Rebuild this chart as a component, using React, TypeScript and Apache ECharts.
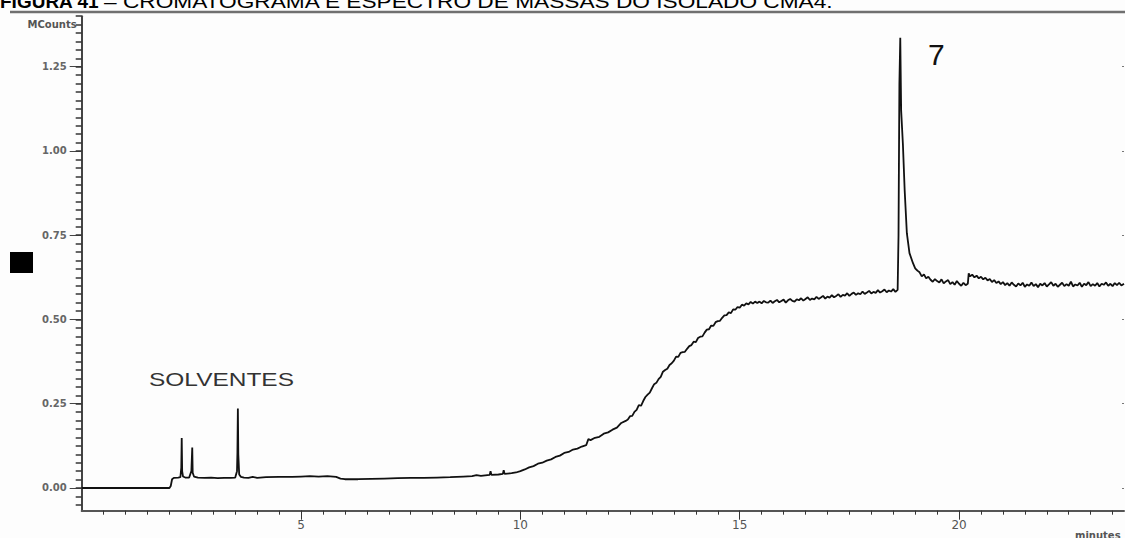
import React, { useEffect, useRef } from "react";
import * as echarts from "echarts";

// ---- tick labels / axis values ----
const majorYTicks = [0, 0.25, 0.5, 0.75, 1.0, 1.25];
const unitTickValue = 1.375;
const unitLabel = "MCounts";
const majorXTicks = [5, 10, 15, 20];
const xName = "minutes";
const peakLabel = "7";
const solventLabel = "SOLVENTES";
const titleBold = "FIGURA 41";
const titleRest = "– CROMATOGRAMA E ESPECTRO DE MASSAS DO ISOLADO CMA4.";

// ---- chromatogram trace, [minutes, MCounts] ----
const baselineStart = [
  [0, 0], [1.0, 0], [2.0, 0], [2.03, 0.006], [2.06, 0.026], [2.1, 0.03], [2.2, 0.031],
];
const solventPeaks = [
  [2.25, 0.032], [2.27, 0.06], [2.28, 0.148], [2.29, 0.05], [2.31, 0.034], [2.36, 0.031],
  [2.45, 0.031], [2.5, 0.05], [2.52, 0.12], [2.53, 0.045], [2.56, 0.034], [2.65, 0.031],
  [2.8, 0.03], [2.95, 0.031], [3.1, 0.029], [3.25, 0.03], [3.4, 0.03], [3.5, 0.031],
  [3.54, 0.05], [3.55, 0.105], [3.56, 0.236], [3.57, 0.1], [3.59, 0.04], [3.63, 0.033],
  [3.7, 0.031], [3.8, 0.03], [3.9, 0.033], [4.0, 0.03],
];
const lowBaseline = [
  [4.2, 0.032], [4.5, 0.033], [4.8, 0.033], [5.0, 0.034], [5.2, 0.035], [5.4, 0.034],
  [5.6, 0.035], [5.8, 0.033], [5.9, 0.028], [6.0, 0.026], [6.3, 0.026], [6.6, 0.027],
  [6.9, 0.028], [7.2, 0.029], [7.5, 0.03], [7.8, 0.03], [8.1, 0.031], [8.4, 0.032],
  [8.7, 0.034], [8.9, 0.035], [9.0, 0.038], [9.1, 0.036], [9.3, 0.039], [9.32, 0.05],
  [9.34, 0.039], [9.5, 0.04], [9.6, 0.042], [9.62, 0.053], [9.64, 0.042], [9.8, 0.044],
  [9.9, 0.046],
];
const riseSegment = [
  [10.0, 0.05], [10.1, 0.055], [10.2, 0.061], [10.3, 0.065], [10.4, 0.072], [10.5, 0.075],
  [10.6, 0.081], [10.7, 0.085], [10.8, 0.092], [10.9, 0.096], [11.0, 0.104], [11.1, 0.107],
  [11.2, 0.114], [11.3, 0.117], [11.4, 0.123], [11.5, 0.127], [11.55, 0.145], [11.6, 0.142],
  [11.7, 0.149], [11.8, 0.152], [11.9, 0.161], [12.0, 0.165], [12.1, 0.173], [12.2, 0.179],
  [12.3, 0.193], [12.4, 0.199], [12.45, 0.203], [12.5, 0.213], [12.55, 0.214], [12.6, 0.226],
  [12.65, 0.232], [12.7, 0.246], [12.75, 0.244], [12.8, 0.258], [12.85, 0.27], [12.9, 0.277],
  [12.95, 0.283], [13.0, 0.296], [13.05, 0.308], [13.1, 0.312], [13.15, 0.323], [13.2, 0.33],
  [13.25, 0.345], [13.3, 0.35], [13.35, 0.354], [13.4, 0.365], [13.45, 0.37], [13.5, 0.378],
  [13.55, 0.39], [13.6, 0.389], [13.65, 0.401], [13.7, 0.403], [13.75, 0.404], [13.8, 0.413],
  [13.85, 0.421], [13.9, 0.424], [13.95, 0.434], [14.0, 0.433], [14.05, 0.445], [14.1, 0.449],
  [14.15, 0.45], [14.2, 0.461], [14.25, 0.47], [14.3, 0.471], [14.35, 0.482], [14.4, 0.481],
  [14.45, 0.492], [14.5, 0.495], [14.55, 0.496], [14.6, 0.505], [14.65, 0.512], [14.7, 0.513],
  [14.75, 0.521], [14.8, 0.519], [14.85, 0.53], [14.9, 0.529], [14.95, 0.537], [15.0, 0.535],
  [15.05, 0.544], [15.1, 0.541], [15.15, 0.548], [15.2, 0.545], [15.25, 0.552], [15.3, 0.547],
  [15.35, 0.553], [15.4, 0.549],
];
const plateauSegment = [
  [15.45, 0.553], [15.5, 0.548], [15.55, 0.555], [15.6, 0.551], [15.65, 0.55], [15.7, 0.556],
  [15.75, 0.549], [15.8, 0.554], [15.85, 0.558], [15.9, 0.551], [15.95, 0.555], [16.0, 0.559],
  [16.05, 0.55], [16.1, 0.557], [16.15, 0.561], [16.2, 0.555], [16.25, 0.553], [16.3, 0.56],
  [16.35, 0.557], [16.4, 0.563], [16.45, 0.556], [16.5, 0.561], [16.55, 0.566], [16.6, 0.558],
  [16.65, 0.562], [16.7, 0.56], [16.75, 0.567], [16.8, 0.561], [16.85, 0.565], [16.9, 0.57],
  [16.95, 0.562], [17.0, 0.568], [17.05, 0.565], [17.1, 0.572], [17.15, 0.566], [17.2, 0.57],
  [17.25, 0.575], [17.3, 0.567], [17.35, 0.573], [17.4, 0.571], [17.45, 0.578], [17.5, 0.57],
  [17.55, 0.576], [17.6, 0.58], [17.65, 0.573], [17.7, 0.578], [17.75, 0.575], [17.8, 0.583],
  [17.85, 0.576], [17.9, 0.58], [17.95, 0.585], [18.0, 0.577], [18.05, 0.582], [18.1, 0.579],
  [18.15, 0.587], [18.2, 0.58], [18.25, 0.584], [18.3, 0.589], [18.35, 0.581], [18.4, 0.586],
  [18.45, 0.583], [18.5, 0.59], [18.55, 0.582], [18.6, 0.588],
];
const mainPeak = [
  [18.62, 0.75], [18.64, 1.2], [18.66, 1.336], [18.68, 1.12], [18.72, 1.02], [18.76, 0.884],
  [18.81, 0.756], [18.87, 0.697], [18.95, 0.667], [19.0, 0.652], [19.05, 0.645], [19.1, 0.64],
  [19.15, 0.628], [19.2, 0.634], [19.25, 0.622], [19.3, 0.627],
];
const tailSegment = [
  [19.35, 0.618], [19.4, 0.612], [19.45, 0.62], [19.5, 0.614], [19.55, 0.61], [19.6, 0.619],
  [19.65, 0.607], [19.7, 0.613], [19.75, 0.617], [19.8, 0.605], [19.85, 0.611], [19.9, 0.603],
  [19.95, 0.614], [20.0, 0.606], [20.05, 0.6], [20.1, 0.609], [20.15, 0.602], [20.2, 0.606],
  [20.22, 0.637], [20.25, 0.628], [20.3, 0.633], [20.35, 0.625], [20.4, 0.63], [20.45, 0.622],
  [20.5, 0.627], [20.55, 0.619], [20.6, 0.624], [20.65, 0.616], [20.7, 0.62], [20.75, 0.611],
  [20.8, 0.617], [20.85, 0.608], [20.9, 0.613], [20.95, 0.605], [21.0, 0.611], [21.05, 0.602],
  [21.1, 0.608], [21.15, 0.6], [21.2, 0.61], [21.25, 0.603], [21.3, 0.598], [21.35, 0.607],
  [21.4, 0.601], [21.45, 0.609], [21.5, 0.597], [21.55, 0.604], [21.6, 0.6], [21.65, 0.61],
  [21.7, 0.599], [21.75, 0.605], [21.8, 0.596], [21.85, 0.606], [21.9, 0.601], [21.95, 0.608],
  [22.0, 0.598], [22.05, 0.604], [22.1, 0.611], [22.15, 0.6], [22.2, 0.606], [22.25, 0.597],
  [22.3, 0.603], [22.35, 0.609], [22.4, 0.599], [22.45, 0.605], [22.5, 0.6], [22.55, 0.612],
  [22.6, 0.598], [22.65, 0.604], [22.7, 0.601], [22.75, 0.609], [22.8, 0.597], [22.85, 0.606],
  [22.9, 0.602], [22.95, 0.611], [23.0, 0.599], [23.05, 0.605], [23.1, 0.6], [23.15, 0.608],
  [23.2, 0.598], [23.25, 0.606], [23.3, 0.603], [23.35, 0.61], [23.4, 0.6], [23.45, 0.606],
  [23.5, 0.599], [23.55, 0.608], [23.6, 0.602], [23.65, 0.609], [23.7, 0.601], [23.76, 0.606],
];

const X_MIN = 0;
const X_MAX = 23.76;
const Y_MIN = -0.0674;
const Y_MAX = 1.4;

function stepValues(from: number, to: number, step: number, scale: number): number[] {
  const out: number[] = [];
  const n0 = Math.round(from / step);
  const n1 = Math.round(to / step);
  for (let i = n0; i <= n1; i++) out.push(Math.round(i * step * scale) / scale);
  return out;
}

export default function App() {
  const ref = useRef<HTMLDivElement>(null);

  useEffect(() => {
    if (!ref.current) return;
    const chart = echarts.init(ref.current, undefined, { renderer: "svg" });
    const trace = [
      ...baselineStart,
      ...solventPeaks,
      ...lowBaseline,
      ...riseSegment,
      ...plateauSegment,
      ...mainPeak,
      ...tailSegment,
    ];
    const minorY = stepValues(-0.05, 1.4, 0.025, 1000);
    const minorX = stepValues(0.5, 23.5, 0.5, 10);
    const labelFont = "DejaVu Sans";
    const axisGray = "#555";

    const grid = { left: 81.7, top: 16.2, width: 1042.3, height: 494.5 };

    chart.setOption({
      animation: false,
      backgroundColor: "#fdfdfd",
      grid,
      xAxis: [
        {
          type: "value",
          min: X_MIN,
          max: X_MAX,
          position: "bottom",
          axisLine: { show: true, onZero: false, lineStyle: { color: axisGray, width: 2 } },
          axisTick: {
            show: true,
            inside: false,
            length: 9,
            customValues: majorXTicks,
            lineStyle: { color: "#333", width: 1 },
          },
          axisLabel: {
            show: true,
            customValues: majorXTicks,
            margin: 8,
            color: "#555",
            fontSize: 12,
            fontFamily: labelFont,
            formatter: (v: number) => String(v),
          },
          splitLine: { show: false },
        },
        {
          type: "value",
          min: X_MIN,
          max: X_MAX,
          position: "bottom",
          axisLine: { show: false, onZero: false },
          axisTick: {
            show: true,
            length: 4,
            customValues: minorX,
            lineStyle: { color: "#333", width: 1 },
          },
          axisLabel: { show: false },
          splitLine: { show: false },
        },
      ],
      yAxis: [
        {
          type: "value",
          min: Y_MIN,
          max: Y_MAX,
          position: "left",
          axisLine: { show: true, onZero: false, lineStyle: { color: "#444", width: 2 } },
          axisTick: {
            show: true,
            length: 12,
            customValues: majorYTicks,
            lineStyle: { color: "#444", width: 1 },
          },
          axisLabel: {
            show: true,
            customValues: majorYTicks,
            margin: 15,
            color: "#666",
            fontSize: 10,
            fontWeight: "bold",
            fontFamily: labelFont,
            formatter: (v: number) => v.toFixed(2),
          },
          splitLine: { show: false },
        },
        {
          type: "value",
          min: Y_MIN,
          max: Y_MAX,
          position: "left",
          axisLine: { show: false, onZero: false },
          axisTick: {
            show: true,
            length: 6,
            customValues: minorY,
            lineStyle: { color: "#333", width: 1.5 },
          },
          axisLabel: {
            show: true,
            customValues: [unitTickValue],
            margin: 5,
            color: "#555",
            fontSize: 10,
            fontWeight: "bold",
            fontFamily: labelFont,
            formatter: () => unitLabel,
          },
          splitLine: { show: false },
        },
        {
          type: "value",
          min: Y_MIN,
          max: Y_MAX,
          position: "right",
          axisLine: { show: false, onZero: false },
          axisTick: {
            show: true,
            inside: true,
            length: 2,
            customValues: majorYTicks,
            lineStyle: { color: "#777", width: 1 },
          },
          axisLabel: { show: false },
          splitLine: { show: false },
        },
      ],
      series: [
        {
          type: "line",
          xAxisIndex: 0,
          yAxisIndex: 0,
          data: trace,
          showSymbol: false,
          symbol: "none",
          lineStyle: { color: "#111", width: 1.8 },
          silent: true,
        },
      ],
      graphic: [
        {
          type: "text",
          x: 0,
          y: 1,
          style: {
            text: titleBold,
            font: "bold 19px 'Liberation Sans', Arial",
            fill: "#000",
            textVerticalAlign: "middle",
          },
        },
        {
          type: "text",
          x: 104,
          y: 1,
          scaleX: 1.26,
          style: {
            text: titleRest,
            font: "18px 'Liberation Sans', Arial",
            fill: "#000",
            textVerticalAlign: "middle",
          },
        },
        {
          type: "line",
          shape: { x1: 10, y1: 12, x2: 1125, y2: 12 },
          style: { stroke: "#707070", lineWidth: 2.5 },
        },
        {
          type: "rect",
          shape: { x: 10, y: 252, width: 23, height: 21 },
          style: { fill: "#000" },
        },
        {
          type: "text",
          x: 149,
          y: 380,
          scaleX: 1.36,
          style: {
            text: solventLabel,
            font: "18px 'Liberation Sans', Arial",
            fill: "#333",
            textVerticalAlign: "middle",
          },
        },
        {
          type: "text",
          x: 928,
          y: 54,
          style: {
            text: peakLabel,
            font: "30px 'Liberation Sans', Arial",
            fill: "#111",
            textVerticalAlign: "middle",
          },
        },
        {
          type: "text",
          x: 1075,
          y: 535,
          style: {
            text: xName,
            font: "bold 10px 'DejaVu Sans'",
            fill: "#555",
            textVerticalAlign: "middle",
          },
        },
      ],
    });
    return () => chart.dispose();
  }, []);

  return (
    <div
      ref={ref}
      style={{ position: "absolute", left: 0, top: 0, width: 1125, height: 538 }}
    />
  );
}
